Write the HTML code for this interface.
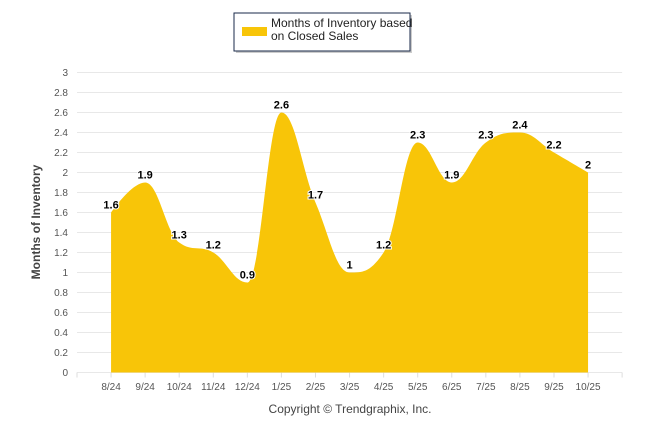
<!DOCTYPE html>
<html><head><meta charset="utf-8"><style>
body{margin:0;background:#fff;width:646px;height:434px;overflow:hidden;font-family:"Liberation Sans",Arial,sans-serif}
</style></head><body>
<svg width="646" height="434" id="svg">
<g id="grid"></g>
<path id="area" fill="#F8C508"></path>
<g id="ylab"></g>
<g id="xlab"></g>
<g id="vals"></g>
<text x="40" y="222" transform="rotate(-90 40 222)" text-anchor="middle" font-size="12" font-weight="bold" fill="#444">Months of Inventory</text>
<text x="350" y="413" text-anchor="middle" font-size="12" fill="#444">Copyright © Trendgraphix, Inc.</text>
<g>
<rect x="236" y="15" width="176" height="38" fill="#999" opacity="0.5"/>
<rect x="234" y="13" width="176" height="38" fill="#fff" stroke="#1a2a4a" stroke-width="1"/>
<rect x="242" y="27" width="25" height="9" fill="#F8C508"/>
<text x="271" y="27" font-size="12" fill="#222">Months of Inventory based</text>
<text x="271" y="40" font-size="12" fill="#222">on Closed Sales</text>
</g>
</svg>
<script>
const categories=["8/24","9/24","10/24","11/24","12/24","1/25","2/25","3/25","4/25","5/25","6/25","7/25","8/25","9/25","10/25"];
const values=[1.6,1.9,1.3,1.2,0.9,2.6,1.7,1,1.2,2.3,1.9,2.3,2.4,2.2,2];
const yTicks=[0,0.2,0.4,0.6,0.8,1,1.2,1.4,1.6,1.8,2,2.2,2.4,2.6,2.8,3];
const NS="http://www.w3.org/2000/svg";
const L=77,slot=34.07,R=L+16*slot,T=72.5,B=372.5;
const xs=i=>L+slot*(i+1);
const ys=v=>B-(v/3)*(B-T);
function mk(t,a,p){const e=document.createElementNS(NS,t);for(const k in a)e.setAttribute(k,a[k]);p.appendChild(e);return e;}
const grid=document.getElementById('grid'),ylab=document.getElementById('ylab'),xlab=document.getElementById('xlab'),vals=document.getElementById('vals');
yTicks.forEach(v=>{
 const l=mk('line',{x1:L,x2:R,y1:ys(v),y2:ys(v),stroke:'#e8e8e8','stroke-width':1},grid);
 
 
 const t=mk('text',{x:68,y:ys(v)+3.5,'text-anchor':'end','font-size':10,fill:'#555'},ylab);
 t.textContent=v;
 
 
});
for(let i=0;i<=16;i++){const l=mk('line',{x1:L+slot*i,x2:L+slot*i,y1:B,y2:B+5,stroke:'#ddd'},grid);
 
 }
categories.forEach((c,i)=>{
 const t=mk('text',{x:xs(i),y:390,'text-anchor':'middle','font-size':10,fill:'#555'},xlab);
 t.textContent=c;
 
 
});
const pts=values.map((v,i)=>[xs(i),ys(v)]);
function ctrl(i){
 const [x,y]=pts[i];if(i===0||i===pts.length-1)return null;
 const [px,py]=pts[i-1],[nx,ny]=pts[i+1];
 let lx=(1.5*x+px)/2.5,ly=(1.5*y+py)/2.5,rx=(1.5*x+nx)/2.5,ry=(1.5*y+ny)/2.5;
 const c=((ry-ly)*(rx-x))/(rx-lx)+y-ry;ly+=c;ry+=c;
 if(ly>py&&ly>y){ly=Math.max(py,y);ry=2*y-ly;}else if(ly<py&&ly<y){ly=Math.min(py,y);ry=2*y-ly;}
 if(ry>ny&&ry>y){ry=Math.max(ny,y);ly=2*y-ry;}else if(ry<ny&&ry<y){ry=Math.min(ny,y);ly=2*y-ry;}
 return {lx,ly,rx,ry};
}
const cs=pts.map((p,i)=>ctrl(i));
let d=`M${pts[0][0]},${B} L${pts[0][0]},${pts[0][1]}`;
for(let i=1;i<pts.length;i++){
 const a=cs[i-1]?[cs[i-1].rx,cs[i-1].ry]:pts[i-1];
 const b=cs[i]?[cs[i].lx,cs[i].ly]:pts[i];
 d+=` C${a[0]},${a[1]} ${b[0]},${b[1]} ${pts[i][0]},${pts[i][1]}`;
}
d+=` L${pts[pts.length-1][0]},${B} Z`;
document.getElementById('area').setAttribute('d',d);
values.forEach((v,i)=>{
 const t=mk('text',{x:xs(i),y:ys(v)-4,'text-anchor':'middle','font-size':11,'font-weight':'bold',fill:'#000',stroke:'#fff','stroke-width':2,'paint-order':'stroke'},vals);
 t.textContent=v;
 
 
});
</script>
</body></html>
